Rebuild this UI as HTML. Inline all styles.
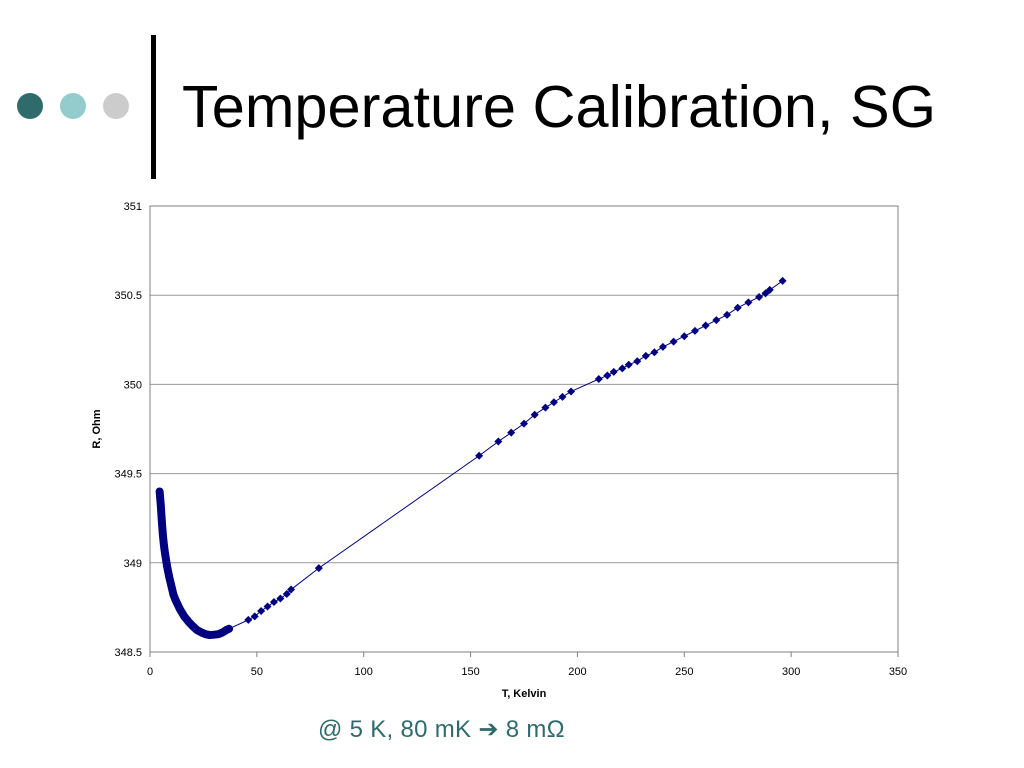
<!DOCTYPE html>
<html><head><meta charset="utf-8"><style>
body{margin:0;width:1024px;height:768px;background:#fff;overflow:hidden;font-family:"Liberation Sans",sans-serif;position:relative}
.dot{position:absolute;width:26px;height:26px;border-radius:50%;top:93px}
</style></head><body>
<div class="dot" style="left:17px;background:#2f6b6b"></div>
<div class="dot" style="left:60px;background:#93cccc"></div>
<div class="dot" style="left:103px;background:#cccccc"></div>
<div style="position:absolute;left:151px;top:35px;width:5px;height:144px;background:#000"></div>
<div style="position:absolute;left:182px;top:72px;font-size:59.5px;color:#000;white-space:nowrap">Temperature Calibration, SG</div>
<svg id="chart" width="1024" height="768" style="position:absolute;left:0;top:0" xmlns="http://www.w3.org/2000/svg"></svg>
<div style="position:absolute;left:318px;top:715px;font-size:24px;color:#2f6b6b;white-space:nowrap;letter-spacing:0.3px">@ 5 K, 80 mK &#x2794; 8 mΩ</div>
<script>
const temps=[4.5,5,5.5,6,6.5,7,8,9,10,11,12,13,14,15,16,17,18,20,22,24,26,28,30,32,34,36,37,46,49,52,55,58,61,64,66,79,154,163,169,175,180,185,189,193,197,210,214,217,221,224,228,232,236,240,245,250,255,260,265,270,275,280,285,288,290,296];
const ohms=[349.40,349.33,349.24,349.16,349.10,349.055,348.98,348.92,348.87,348.82,348.79,348.765,348.74,348.72,348.70,348.685,348.67,348.645,348.623,348.61,348.60,348.595,348.597,348.60,348.61,348.625,348.63,348.68,348.70,348.73,348.755,348.78,348.80,348.825,348.85,348.97,349.60,349.68,349.73,349.78,349.83,349.87,349.90,349.93,349.96,350.03,350.05,350.07,350.09,350.11,350.13,350.16,350.18,350.21,350.24,350.27,350.30,350.33,350.36,350.39,350.43,350.46,350.49,350.51,350.53,350.58];
const xTicks=[0,50,100,150,200,250,300,350];
const yTicks=[348.5,349,349.5,350,350.5,351];
const X0=150,X1=898,Y0=652,Y1=206;
const sx=t=>X0+(t-0)/350*(X1-X0);
const sy=r=>Y0-(r-348.5)/2.5*(Y0-Y1);
const svg=document.getElementById('chart');const NS='http://www.w3.org/2000/svg';
function mk(tag,attrs){const e=document.createElementNS(NS,tag);for(const k in attrs)e.setAttribute(k,attrs[k]);svg.appendChild(e);return e;}
yTicks.forEach(v=>{const g=mk('line',{x1:X0,x2:X1,y1:sy(v),y2:sy(v),stroke:v==348.5?'#808080':'#999','stroke-width':1});


const t=mk('text',{x:X0-8,y:sy(v)+4,'text-anchor':'end','font-size':11,fill:'#000'});t.textContent=v;

});
const fr=mk('rect',{x:X0,y:Y1,width:X1-X0,height:Y0-Y1,fill:'none',stroke:'#808080'});


xTicks.forEach(v=>{const t=mk('text',{x:sx(v),y:Y0+23,'text-anchor':'middle','font-size':11,fill:'#000'});t.textContent=v;


const tk=mk('line',{x1:sx(v),x2:sx(v),y1:Y0,y2:Y0+5,stroke:'#808080'});

});
const xt=mk('text',{x:524,y:697,'text-anchor':'middle','font-size':11,'font-weight':'bold'});xt.textContent='T, Kelvin';


const yt=mk('text',{x:100,y:429,'text-anchor':'middle','font-size':11,'font-weight':'bold',transform:'rotate(-90 100 429)'});yt.textContent='R, Ohm';


const pts=temps.map((t,i)=>sx(t)+','+sy(ohms[i])).join(' ');
const thick=mk('polyline',{points:temps.filter(t=>t<=37).map((t,i)=>sx(t)+','+sy(ohms[i])).join(' '),fill:'none',stroke:'#000080','stroke-width':8,'stroke-linejoin':'round','stroke-linecap':'round'});


const ln=mk('polyline',{points:pts,fill:'none',stroke:'#000080','stroke-width':1});


temps.forEach((t,i)=>{const x=sx(t),y=sy(ohms[i]);
const m=mk('polygon',{points:`${x},${y-4} ${x+4},${y} ${x},${y+4} ${x-4},${y}`,fill:'#000080'});

});
</script>
</body></html>
